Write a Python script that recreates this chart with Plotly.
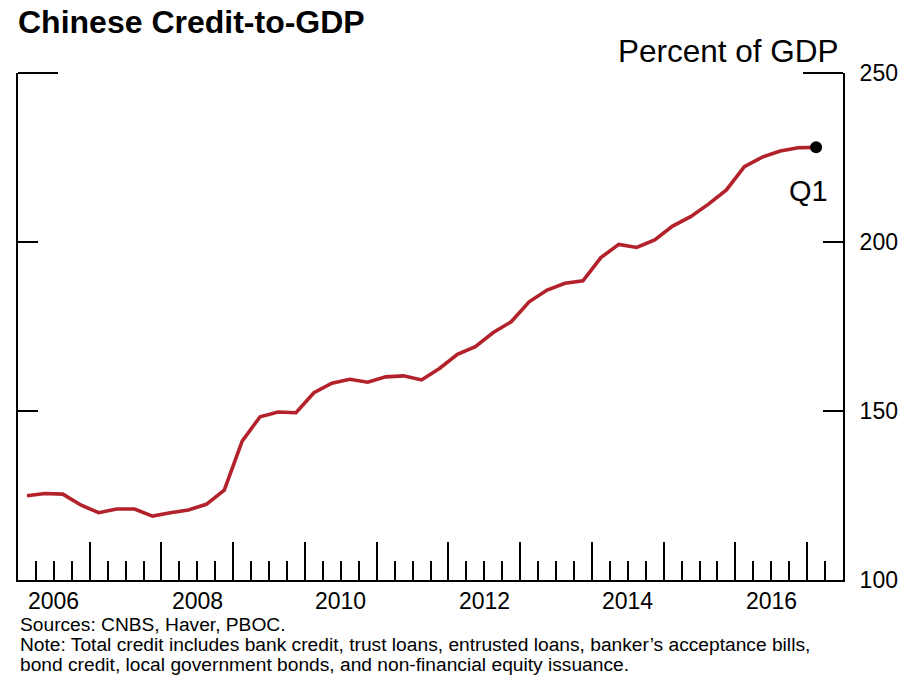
import plotly.graph_objects as go

# Quarterly observations, 2006Q1 through 2017Q1
quarters = [f"{yr}Q{q}" for yr in range(2006, 2018) for q in range(1, 5)][:45]

# Total credit as a share of GDP (percent)
credit_to_gdp = [
    124.9, 125.6, 125.4, 122.2,   # 2006
    119.9, 121.0, 121.0, 118.9,   # 2007
    119.9, 120.7, 122.4, 126.6,   # 2008
    141.1, 148.3, 149.7, 149.5,   # 2009
    155.4, 158.2, 159.4, 158.5,   # 2010
    160.1, 160.4, 159.2, 162.6,   # 2011
    166.8, 169.0, 173.2, 176.4,   # 2012
    182.3, 185.8, 187.8, 188.5,   # 2013
    195.4, 199.3, 198.4, 200.6,   # 2014
    204.7, 207.5, 211.2, 215.4,   # 2015
    222.3, 225.1, 226.9, 227.9,   # 2016
    228.0,                        # 2017Q1
]

year_labels = ["2006", "2008", "2010", "2012", "2014", "2016"]
year_ticks = list(range(2007, 2018))
y_ticks = [100, 150, 200, 250]

source_lines = [
    "Sources: CNBS, Haver, PBOC.",
    "Note: Total credit includes bank credit, trust loans, entrusted loans, banker\u2019s acceptance bills,",
    "bond credit, local government bonds, and non-financial equity issuance.",
]

FONT = "Liberation Sans, Arial, Helvetica, sans-serif"


def quarter_mid(q):
    """Decimal-year position of the middle of a quarter."""
    year = int(q[:4])
    n = int(q[-1])
    return year + (n - 1) * 0.25 + 0.125


x_vals = [quarter_mid(q) for q in quarters]

fig = go.Figure()
fig.add_trace(go.Scatter(
    x=x_vals, y=credit_to_gdp, mode="lines",
    line=dict(color="#B3222A", width=3.6),
    hoverinfo="skip", showlegend=False,
))
fig.add_trace(go.Scatter(
    x=[x_vals[-1]], y=[credit_to_gdp[-1]], mode="markers",
    marker=dict(color="black", size=12),
    hoverinfo="skip", showlegend=False,
))

annotations = []
# Year labels centred within their calendar year
for lab in year_labels:
    annotations.append(dict(
        x=int(lab) + 0.5, xref="x", y=-0.0424, yref="paper",
        text=lab, showarrow=False, xanchor="center", yanchor="middle",
        borderpad=0,
        font=dict(family=FONT, size=23, color="black"),
    ))
# Units label
annotations.append(dict(
    x=0.9976, xref="paper", y=1.0434, yref="paper",
    text="Percent of GDP", showarrow=False, xanchor="right", yanchor="middle",
    font=dict(family=FONT, size=31.5, color="black"),
))
# Latest-quarter marker label
annotations.append(dict(
    x=x_vals[-1], xref="x", y=credit_to_gdp[-1], yref="y",
    text="Q1", showarrow=False, xanchor="center", yanchor="middle",
    xshift=-8, yshift=-44,
    font=dict(family=FONT, size=29, color="black"),
))
# Sources and note
for line, ypos in zip(source_lines, [-0.0868, -0.1272, -0.1676]):
    annotations.append(dict(
        x=0.0012, xref="paper", y=ypos, yref="paper",
        text=line, showarrow=False, xanchor="left", yanchor="middle",
        borderpad=0,
        font=dict(family=FONT, size=19.2, color="black"),
    ))

fig.update_layout(
    width=913, height=676,
    margin=dict(l=18, r=70, t=73, b=96),
    paper_bgcolor="white", plot_bgcolor="white",
    title=dict(
        text="<b>Chinese Credit-to-GDP</b>",
        x=18 / 913, xref="container", xanchor="left",
        y=1 - 22 / 676, yref="container", yanchor="middle",
        font=dict(family=FONT, size=32, color="black"),
    ),
    font=dict(family=FONT, color="black"),
    annotations=annotations,
    shapes=[
        # corner segments along the top edge
        dict(type="line", xref="paper", yref="paper", x0=0, x1=40 / 825, y0=1, y1=1,
             line=dict(color="black", width=2)),
        dict(type="line", xref="paper", yref="paper", x0=1 - 40 / 825, x1=1, y0=1, y1=1,
             line=dict(color="black", width=2)),
    ],
)

fig.update_xaxes(
    range=[2006, 2017.5],
    showgrid=False, zeroline=False,
    showline=True, linecolor="black", linewidth=2,
    tickmode="array", tickvals=year_ticks,
    ticks="inside", ticklen=38, tickwidth=2, tickcolor="black",
    showticklabels=False,
    minor=dict(ticks="inside", ticklen=19, tickwidth=2, tickcolor="black",
               tick0=2006, dtick=0.25, showgrid=False),
)
fig.update_yaxes(
    range=[100, 250], side="right",
    showgrid=False, zeroline=False,
    showline=True, linecolor="black", linewidth=2, mirror="ticks",
    tickmode="array", tickvals=y_ticks,
    ticks="inside", ticklen=20, tickwidth=2, tickcolor="black",
    ticklabelstandoff=10,
    tickfont=dict(family=FONT, size=23, color="black"),
)

fig.write_html("out.html")
